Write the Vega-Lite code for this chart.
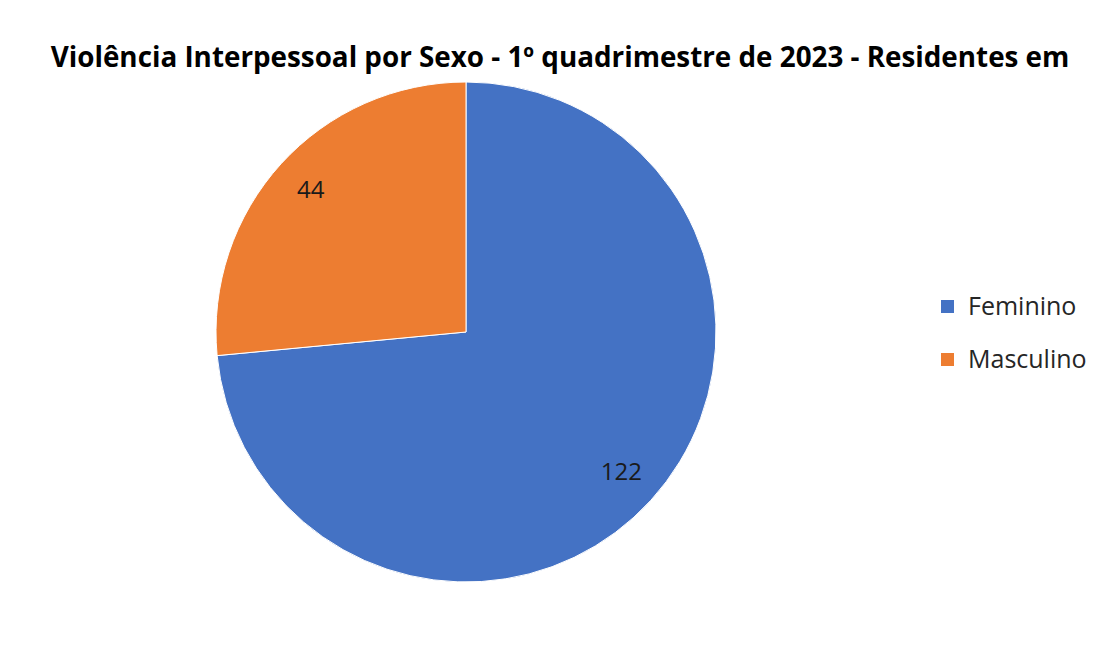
{
  "$schema": "https://vega.github.io/schema/vega-lite/v6.json",
  "autosize": {"type": "none"},
  "padding": {"left": 216, "top": 82, "right": 389, "bottom": 68},
  "width": 500,
  "height": 500,
  "background": "white",
  "config": {"view": {"stroke": null}, "font": "Open Sans"},
  "title": {
    "text": "Violência Interpessoal por Sexo - 1º quadrimestre de 2023 - Residentes em",
    "font": "Open Sans",
    "fontSize": 27.8,
    "fontWeight": "bold",
    "color": "#000000",
    "anchor": "middle",
    "frame": "group",
    "dx": 94,
    "offset": 7
  },
  "data": {
    "values": [
      {"sexo": "Feminino", "casos": 122},
      {"sexo": "Masculino", "casos": 44}
    ]
  },
  "encoding": {
    "theta": {"field": "casos", "type": "quantitative", "stack": true},
    "color": {
      "field": "sexo",
      "type": "nominal",
      "sort": ["Feminino", "Masculino"],
      "scale": {"domain": ["Feminino", "Masculino"], "range": ["#4472C4", "#ED7D31"]},
      "legend": {
        "title": null,
        "orient": "none",
        "legendX": 719,
        "legendY": 212,
        "symbolType": "square",
        "symbolSize": 169,
        "symbolStrokeWidth": 0,
        "labelFont": "Open Sans",
        "labelFontSize": 25,
        "labelColor": "#262626",
        "labelOffset": 8,
        "rowPadding": 27
      }
    },
    "order": {"field": "sexo", "sort": "ascending"}
  },
  "layer": [
    {"mark": {"type": "arc", "outerRadius": 250, "stroke": "white", "strokeWidth": 1}},
    {
      "mark": {"type": "text", "radius": 210, "font": "Open Sans", "fontSize": 24},
      "encoding": {"text": {"field": "casos", "type": "quantitative"}, "color": {"value": "#1a1a1a"}}
    }
  ]
}
